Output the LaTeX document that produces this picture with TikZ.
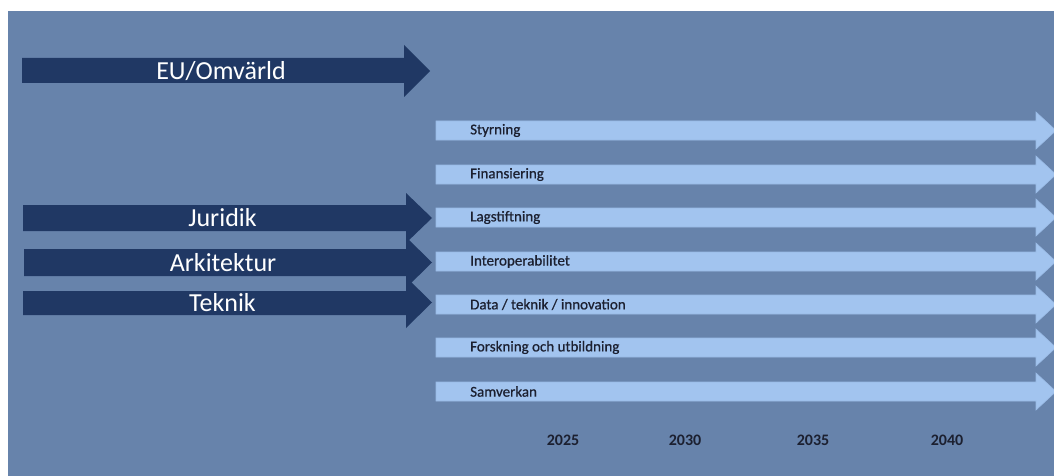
\documentclass[tikz,border=0pt]{standalone}
\usepackage{fontspec}
\setmainfont{Carlito}
\newfontfamily\labelfont[FakeBold=0.7]{Carlito}
\definecolor{bgc}{HTML}{6783AB}
\definecolor{darkc}{HTML}{203864}
\definecolor{lightc}{HTML}{A2C4EF}
\definecolor{txtc}{HTML}{1C2030}
\newcommand\mkdark[8]{% name, left, btop, bbot, htop, hbot, headx, tip
  \fill[darkc] (#2,#3) -- (#7,#3) -- (#7,#5) -- (#8,{(#5+#6)/2}) -- (#7,#6) -- (#7,#4) -- (#2,#4) -- cycle;
  \node[bigtxt] (#1) at ({(#2+#7)/2+8},{(#3+#4)/2}) {#1};}
\newcommand\mklight[3]{% name, label, top
  \fill[lightc, draw=lightc!85!bgc, line width=0.6pt] (436,#3) -- (1036,#3) -- (1036,#3-9) -- (1056,#3+9.5) -- (1036,#3+28) -- (1036,#3+19) -- (436,#3+19) -- cycle;
  \node[smalltxt] (#1) at (470,#3+9.5) {#2};}
\begin{document}
\begin{tikzpicture}[x=1pt,y=-1pt,
  bigtxt/.style={text=white, font=\fontsize{26}{30}\selectfont, inner sep=0pt, anchor=center},
  smalltxt/.style={text=txtc, font=\labelfont\fontsize{15}{17}\selectfont, inner sep=0pt, anchor=west},
  yeartxt/.style={text=txtc, font=\bfseries\fontsize{16}{18}\selectfont, inner sep=0pt}]
\useasboundingbox (0,0) rectangle (1054,476);
\fill[white] (0,0) rectangle (1054,476);
\fill[bgc] (8,11) rectangle (1060,480);
\fill[darkc] (22,58) -- (404,58) -- (404,45) -- (430,71) -- (404,97) -- (404,83) -- (22,83) -- cycle;
\node[bigtxt] (eu) at (221,71) {EU/Omvärld};
\mkdark{Juridik}{23}{205}{231}{193}{243}{406}{432}
\mkdark{Arkitektur}{24}{249}{276}{237}{288}{406}{432}
\mkdark{Teknik}{23}{291}{315}{277}{328}{406}{432}
\mklight{styr}{Styrning}{121}
\mklight{fin}{Finansiering}{165}
\mklight{lag}{Lagstiftning}{208}
\mklight{inter}{Interoperabilitet}{252}
\mklight{data}{Data / teknik / innovation}{295}
\mklight{fors}{Forskning och utbildning}{338}
\mklight{sam}{Samverkan}{382}
\node[yeartxt] (y1) at (563,440) {2025};
\node[yeartxt] (y2) at (685,440) {2030};
\node[yeartxt] (y3) at (813,440) {2035};
\node[yeartxt] (y4) at (947,440) {2040};
\end{tikzpicture}
\end{document}
